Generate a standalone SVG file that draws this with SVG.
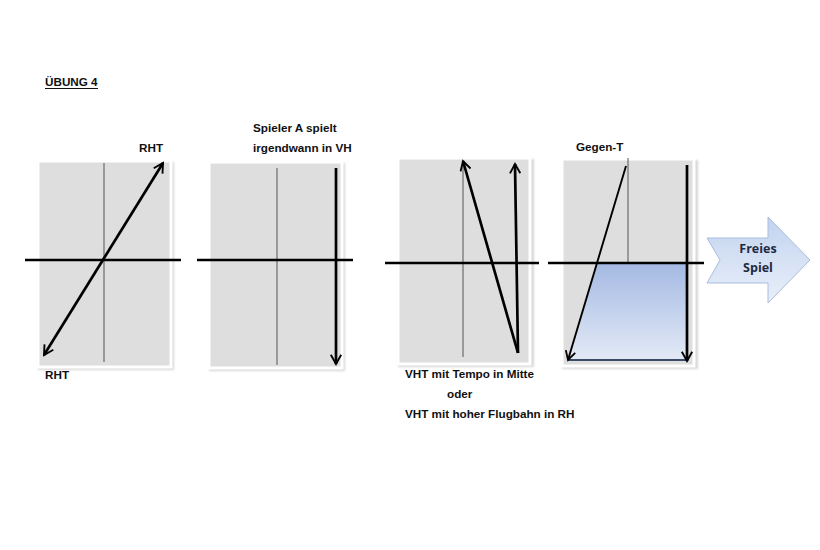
<svg xmlns="http://www.w3.org/2000/svg" width="820" height="550" viewBox="0 0 820 550">
<defs>
<style>
.t{font-family:"Liberation Sans",Arial,sans-serif;font-weight:bold;font-size:11.7px;fill:#111}
.panel{fill:#dedede;stroke:#ffffff;stroke-width:3}
.shadow{fill:#bdbdbd;opacity:0.6}
.mid{stroke:#555;stroke-width:1;fill:none}
.hl{stroke:#000;stroke-width:2.6;fill:none}
.ar{stroke:#000;stroke-width:2.7;fill:none}
.ar2{stroke:#000;stroke-width:1.9;fill:none}
</style>
<marker id="v" viewBox="0 0 12 12" refX="10" refY="6" markerWidth="4.6" markerHeight="4.6" orient="auto-start-reverse" markerUnits="strokeWidth">
<path d="M1,1 L10,6 L1,11" fill="none" stroke="#000" stroke-width="1.8"/>
</marker>
<marker id="v2" viewBox="0 0 12 12" refX="10" refY="6" markerWidth="6.2" markerHeight="6.2" orient="auto-start-reverse" markerUnits="strokeWidth">
<path d="M1,1 L10,6 L1,11" fill="none" stroke="#000" stroke-width="1.8"/>
</marker>
<linearGradient id="blue" x1="0" y1="0" x2="0" y2="1">
<stop offset="0" stop-color="#a4b9e3"/>
<stop offset="1" stop-color="#e3eaf6"/>
</linearGradient>
<linearGradient id="arrowg" x1="0" y1="0" x2="0" y2="1">
<stop offset="0" stop-color="#c2d3ef"/>
<stop offset="1" stop-color="#e9eff9"/>
</linearGradient>
<filter id="sh" x="-10%" y="-10%" width="120%" height="120%">
<feGaussianBlur stdDeviation="1.2"/>
</filter>
</defs>
<rect width="820" height="550" fill="#ffffff"/>

<g id="title">
<text class="t" x="45" y="86">ÜBUNG 4</text>
<line x1="45" y1="88.5" x2="98" y2="88.5" stroke="#111" stroke-width="1"/>
</g>

<g id="panel1">
<rect class="shadow" x="38" y="162" width="136" height="208" filter="url(#sh)"/>
<rect class="panel" x="38" y="161" width="133" height="206"/>
<line class="mid" x1="104" y1="163" x2="104" y2="362"/>
<text class="t" x="139" y="152">RHT</text>
<text class="t" x="45" y="379">RHT</text>
</g>

<g id="panel2">
<rect class="shadow" x="209" y="163" width="136" height="208" filter="url(#sh)"/>
<rect class="panel" x="209" y="162" width="133" height="206"/>
<line class="mid" x1="277" y1="168" x2="277" y2="365"/>
<text class="t" x="253" y="132">Spieler A spielt</text>
<text class="t" x="253" y="152">irgendwann in VH</text>
</g>

<g id="panel3">
<rect class="shadow" x="398" y="159" width="136" height="208" filter="url(#sh)"/>
<rect class="panel" x="398" y="158" width="132" height="206"/>
<line class="mid" x1="463" y1="162" x2="463" y2="357"/>
<text class="t" x="405" y="378">VHT mit Tempo in Mitte</text>
<text class="t" x="447" y="398">oder</text>
<text class="t" x="405" y="418">VHT mit hoher Flugbahn in RH</text>
</g>

<g id="panel4">
<rect class="shadow" x="562" y="160" width="136" height="209" filter="url(#sh)"/>
<rect class="panel" x="562" y="159" width="132" height="207"/>
<polygon points="597,263 687,263 687,360 568,360" fill="url(#blue)"/>
<line x1="568" y1="360" x2="687" y2="360" stroke="#3b4a66" stroke-width="2"/>
<line class="mid" x1="628" y1="158" x2="628" y2="263"/>
<text class="t" x="576" y="151">Gegen-T</text>
</g>

<g id="freies-spiel">
<path d="M707,238 L768,238 L768,217 L810,260 L768,303 L768,283 L707,283 L720,260 Z" fill="url(#arrowg)" stroke="#a7bde0" stroke-width="1"/>
<text x="758" y="253" text-anchor="middle" style="font-family:'Open Sans','Liberation Sans',sans-serif;font-weight:bold;font-size:12.5px;fill:#1f2a44">Freies</text>
<text x="758" y="272" text-anchor="middle" style="font-family:'Open Sans','Liberation Sans',sans-serif;font-weight:bold;font-size:12.5px;fill:#1f2a44">Spiel</text>
</g>

<g id="connectors">
<line class="hl" x1="25" y1="260" x2="181" y2="260"/>
<line class="hl" x1="197" y1="260" x2="353" y2="260"/>
<line class="hl" x1="385" y1="263" x2="539" y2="263"/>
<line class="hl" x1="548" y1="263" x2="704" y2="263"/>
<line class="ar" x1="44" y1="355" x2="163" y2="163" marker-start="url(#v)" marker-end="url(#v)"/>
<line class="ar" x1="336" y1="168" x2="336" y2="364" marker-end="url(#v)"/>
<line class="ar" x1="518" y1="353" x2="463" y2="161" marker-end="url(#v)"/>
<line class="ar" x1="518" y1="353" x2="515" y2="164" marker-end="url(#v)"/>
<line class="ar2" x1="626" y1="166" x2="568" y2="360" marker-end="url(#v2)"/>
<line class="ar" x1="687" y1="165" x2="687" y2="361" marker-end="url(#v)"/>
</g>
</svg>
